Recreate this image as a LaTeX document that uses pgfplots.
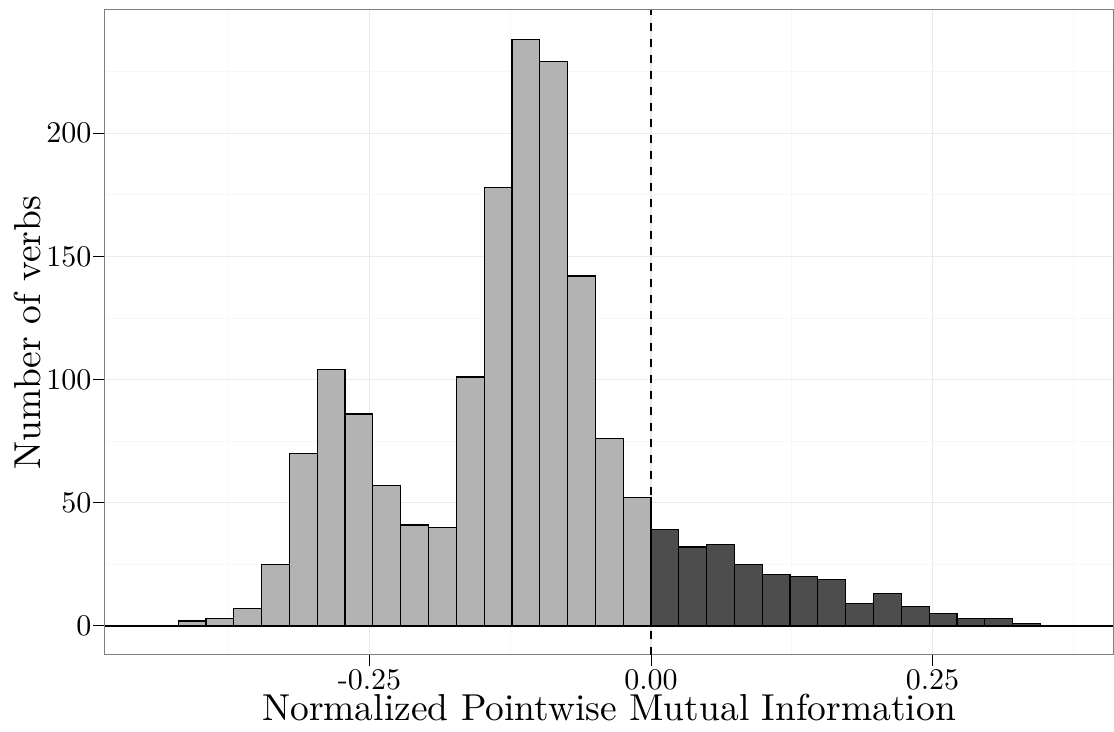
\documentclass[border=0pt]{standalone}
\usepackage{fontspec}
\setmainfont{lmroman10-regular}[Extension=.otf]
\usepackage{pgfplots}
\pgfplotsset{compat=1.18}
\definecolor{lightbar}{HTML}{B3B3B3}
\definecolor{darkbar}{HTML}{4D4D4D}
\definecolor{gridmaj}{HTML}{EBEBEB}
\definecolor{gridmin}{HTML}{F7F7F7}
\definecolor{frame}{HTML}{7F7F7F}
\begin{document}
\begin{tikzpicture}
\begin{axis}[
  scale only axis,
  width=504pt, height=322.5pt,
  xmin=-0.4849, xmax=0.4103,
  ymin=-11.8, ymax=250,
  axis line style={frame, line width=0.5pt},
  xtick={-0.25,0,0.25},
  xticklabels={-0.25,0.00,0.25},
  ytick={0,50,100,150,200},
  yticklabels={0,50,100,150,200},
  minor xtick={-0.375,-0.125,0.125,0.375},
  minor ytick={25,75,125,175,225},
  grid=both,
  major grid style={gridmaj, line width=0.6pt},
  minor grid style={gridmin, line width=0.4pt},
  tick align=outside,
  xtick pos=bottom, ytick pos=left,
  major tick length=5.75pt,
  minor tick length=0pt,
  tick style={black, line width=0.5pt},
  tick label style={font=\fontsize{15}{18}\selectfont},
  xticklabel style={yshift=2pt},
  yticklabel style={xshift=2.5pt},
  label style={font=\fontsize{18.75}{22}\selectfont},
  xlabel={Normalized Pointwise Mutual Information},
  ylabel={Number of verbs},
  xlabel style={at={(axis description cs:0.5,-0.10186)}, anchor=base},
  ylabel style={at={(axis description cs:-0.06389,0.5)}, anchor=base, rotate=0},
]
\addplot[ybar, bar width=0.0247, bar shift=0pt, fill=lightbar, draw=black, line width=0.6pt]
coordinates {
(-0.43225,0) (-0.40755,2) (-0.38285,3) (-0.35815,7) (-0.33345,25) (-0.30875,70)
(-0.28405,104) (-0.25935,86) (-0.23465,57) (-0.20995,41) (-0.18525,40) (-0.16055,101)
(-0.13585,178) (-0.11115,238) (-0.08645,229) (-0.06175,142) (-0.03705,76) (-0.01235,52)
};
\addplot[ybar, bar width=0.0247, bar shift=0pt, fill=darkbar, draw=black, line width=0.6pt]
coordinates {
(0.01235,39) (0.03705,32) (0.06175,33) (0.08645,25) (0.11115,21) (0.13585,20)
(0.16055,19) (0.18525,9) (0.20995,13) (0.23465,8) (0.25935,5) (0.28405,3)
(0.30875,3) (0.33345,1) (0.35815,0)
};
\addplot[black, line width=0.6pt, forget plot] coordinates {(-0.4849,0) (0.4103,0)};
\addplot[black, line width=0.65pt, dash pattern=on 4pt off 4pt, forget plot] coordinates {(0,-11.8) (0,250)};
\coordinate (bl) at (rel axis cs:0,0);
\coordinate (tr) at (rel axis cs:1,1);
\end{axis}
\pgfresetboundingbox
\path[use as bounding box] ([xshift=-52.5pt,yshift=-38.5pt]bl) rectangle ([xshift=0.5pt,yshift=5pt]tr);
\end{tikzpicture}
\end{document}
